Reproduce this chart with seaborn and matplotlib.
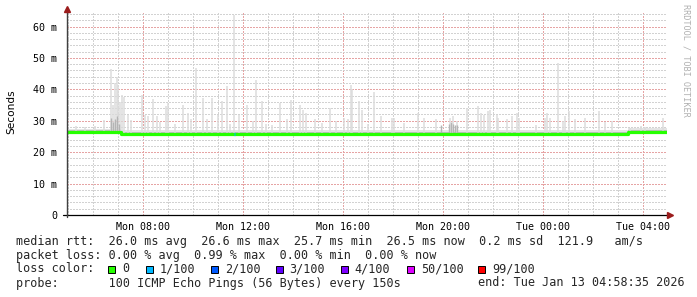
import numpy as np
import pandas as pd
import matplotlib
matplotlib.use("Agg")
import matplotlib.pyplot as plt
import matplotlib.dates as mdates
from matplotlib.patches import Rectangle
from matplotlib.ticker import MultipleLocator, FuncFormatter
import seaborn as sns

# ---------------- data ----------------
START = pd.Timestamp("2026-01-12 04:58:35")
END = pd.Timestamp("2026-01-13 04:58:35")
BIN_HOURS = 150 / 3600.0

# median rtt (ms), step changes (hours after START)
median_step_hours = [0.0, 2.16, 22.43, 24.0]
median_step_ms = [26.4, 25.75, 26.5, 26.5]
# light smoke floor and darker inner smoke (ms) for the same steps
smoke_floor_ms = [27.5, 27.0, 27.6, 27.6]
smoke_inner_ms = [26.95, 26.3, 27.05, 27.05]

# smoke spikes: hours after START and top of smoke (ms)
spike_hours = [0.35, 0.72, 1.12, 1.48, 1.76, 1.84, 1.92, 1.99, 2.04, 2.12, 2.19, 2.29,
               2.43, 2.56, 2.99, 3.12, 3.23, 3.45, 3.59, 3.72, 3.95, 4.04, 4.32, 4.64,
               4.85, 4.96, 5.16, 5.43, 5.59, 5.81, 6.05, 6.21, 6.39, 6.52, 6.69, 6.89,
               7.21, 7.45, 7.55, 7.79, 7.96, 8.19, 8.52, 8.81, 8.96, 9.32, 9.45, 9.56,
               9.92, 10.19, 10.52, 10.76, 11.08, 11.23, 11.36, 11.42, 11.69, 11.79, 12.04,
               12.29, 12.56, 12.99, 13.08, 13.48, 14.04, 14.28, 14.76, 15.32, 15.45, 15.60,
               15.99, 16.45, 16.58, 16.68, 16.85, 16.92, 17.19, 17.25, 17.59, 17.79, 17.99,
               18.09, 18.76, 19.12, 19.19, 19.32, 19.66, 19.83, 19.92, 20.08, 20.32, 20.72,
               21.29, 21.52, 21.79, 22.52, 22.95, 23.12, 23.85]
spike_top_ms = [28.4, 28.0, 28.3, 30.2, 46.6, 35.0, 42.0, 43.8, 41.5, 36.0, 38.3, 37.7,
                31.9, 30.3, 38.3, 31.9, 31.4, 37.0, 31.4, 29.5, 34.6, 35.6, 29.0, 35.1,
                32.5, 30.4, 46.8, 37.2, 30.4, 37.2, 31.9, 36.2, 41.0, 29.0, 63.8, 31.9,
                35.1, 29.8, 43.1, 36.2, 29.0, 28.7, 35.6, 30.5, 36.7, 35.1, 33.5, 32.4,
                30.5, 29.4, 34.0, 29.8, 30.9, 30.5, 41.5, 40.0, 36.2, 33.5, 29.0,
                39.0, 31.4, 30.9, 31.0, 29.4, 32.4, 30.9, 30.4, 30.9, 31.4, 30.0,
                34.0, 34.6, 32.4, 31.9, 33.0, 33.5, 31.9, 30.9, 30.4, 31.4, 32.4,
                30.9, 28.7, 30.9, 32.4, 30.9, 48.4, 30.0, 31.4, 33.0, 30.4, 30.9,
                33.0, 29.5, 29.8, 27.8, 28.4, 28.0, 30.9]

# denser (darker) smoke
dark_hours = [1.76, 1.84, 1.92, 2.00, 2.08, 14.96, 15.28, 15.36, 15.44, 15.52, 15.60]
dark_top_ms = [31.0, 29.5, 30.5, 31.5, 29.0, 28.7, 29.0, 29.5, 29.0, 28.6, 28.8]

# packet loss events (hours after START, lost pings out of 100)
loss_event_hours = [6.69]
loss_event_count = [1]

# legend
loss_labels = ["0", "1/100", "2/100", "3/100", "4/100", "50/100", "99/100"]
loss_thresholds = [0, 1, 2, 3, 4, 50, 99]
loss_colors = ["#26ff00", "#00b8ff", "#0059ff", "#5e00ff", "#7e00ff", "#dd00ff", "#ff0000"]
rtt_line = "median rtt:  26.0 ms avg  26.6 ms max  25.7 ms min  26.5 ms now  0.2 ms sd  121.9   am/s"
loss_line = "packet loss: 0.00 % avg  0.99 % max  0.00 % min  0.00 % now"
probe_line = "probe:       100 ICMP Echo Pings (56 Bytes) every 150s"
end_line = "end: Tue Jan 13 04:58:35 2026"

# ---------------- style ----------------
sns.set_style("white")
plt.rcParams["font.family"] = ["DejaVu Sans Mono", "DejaVu Sans"]

W, H = 697, 297
fig = plt.figure(figsize=(W / 100, H / 100), dpi=100)
fig.patch.set_facecolor("white")
ax = fig.add_axes([67 / W, 82 / H, 600 / W, 202 / H])
ax.set_facecolor("white")


def to_time(hours):
    return START + pd.to_timedelta(np.asarray(hours, dtype=float), unit="h")


def median_at(hours):
    idx = np.searchsorted(median_step_hours, hours, side="right") - 1
    idx = np.clip(idx, 0, len(median_step_ms) - 1)
    return np.asarray(median_step_ms)[idx]


step_t = to_time(median_step_hours)

# smoke floor
ax.fill_between(step_t, median_step_ms, smoke_floor_ms, step="post",
                color="#e4e4e4", lw=0, zorder=2)
ax.fill_between(step_t, median_step_ms, smoke_inner_ms, step="post",
                color="#bdbdbd", lw=0, zorder=2.1)

# smoke spikes
sh = np.asarray(spike_hours)
ax.vlines(to_time(sh), median_at(sh), spike_top_ms, colors="#dcdcdc", lw=1.1, zorder=2.2)
dh = np.asarray(dark_hours)
ax.vlines(to_time(dh), median_at(dh), dark_top_ms, colors="#b4b4b4", lw=1.0, zorder=2.3)

# median line
med_df = pd.DataFrame({"time": step_t, "median": median_step_ms})
sns.lineplot(data=med_df, x="time", y="median", drawstyle="steps-post",
             color=loss_colors[0], lw=2.3, ax=ax, zorder=3)

# loss events on the median
for h, c in zip(loss_event_hours, loss_event_count):
    ci = max(i for i, t in enumerate(loss_thresholds) if c >= t)
    m = median_at(np.array([h]))[0]
    ax.plot(to_time([h, h + BIN_HOURS]), [m, m], color=loss_colors[ci],
            lw=2.3, solid_capstyle="butt", zorder=3.5)

# axes limits and ticks
ax.set_xlim(START, END)
ax.set_ylim(0, 64.3)
ax.set_xlabel("")
ax.set_ylabel("")

ax.xaxis.set_major_locator(mdates.HourLocator(byhour=[0, 4, 8, 12, 16, 20]))
ax.xaxis.set_major_formatter(mdates.DateFormatter("%a %H:%M"))
ax.xaxis.set_minor_locator(mdates.HourLocator())
ax.yaxis.set_major_locator(MultipleLocator(10))
ax.yaxis.set_minor_locator(MultipleLocator(2))
ax.yaxis.set_major_formatter(FuncFormatter(lambda v, _: "0" if abs(v) < 1e-9 else f"{v:.0f} m"))

ax.tick_params(axis="x", which="major", length=3, width=0.8, pad=2, labelsize=7.2,
               colors="black", direction="out")
ax.tick_params(axis="y", which="major", length=2, width=0.8, pad=5, labelsize=7.2,
               colors="black", direction="out")
ax.tick_params(which="minor", length=0)
for lab in ax.get_xticklabels() + ax.get_yticklabels():
    lab.set_family("DejaVu Sans Mono")

red_grid = "#e6a4a4"
grey_grid = "#d2d2d2"
dots = (0, (1, 1.4))
ax.set_axisbelow(True)
ax.grid(which="major", axis="both", color=red_grid, ls=dots, lw=0.75, zorder=0, antialiased=False)
ax.grid(which="minor", axis="both", color=grey_grid, ls=dots, lw=0.75, zorder=0, antialiased=False)
for t in pd.date_range(START.ceil("h"), END, freq="h"):
    if t.hour % 4 == 2:
        ax.axvline(t, color=red_grid, ls=dots, lw=0.75, zorder=0.5, antialiased=False)

for s in ax.spines.values():
    s.set_visible(False)

# axis lines with arrows
ax.plot([-0.006, 1.004], [0, 0], transform=ax.transAxes, color="black", lw=0.9,
        clip_on=False, zorder=5)
ax.plot([0, 0], [-0.012, 1.005], transform=ax.transAxes, color="#404040", lw=1.0,
        clip_on=False, zorder=5)
ax.plot([1.0058], [0], marker=">", transform=ax.transAxes, color="#9b1c1c",
        markersize=4, clip_on=False, zorder=6)
ax.plot([0], [1.018], marker="^", transform=ax.transAxes, color="#9b1c1c",
        markersize=4, clip_on=False, zorder=6)

# y label and watermark
fig.text(11 / W, 1 - 112 / H, "Seconds", rotation=90, ha="center", va="center",
         fontsize=7.6, family="DejaVu Sans", color="black")
fig.text(686 / W, 1 - 4 / H, "RRDTOOL / TOBI OETIKER", rotation=270, ha="center",
         va="top", fontsize=6.1, family="DejaVu Sans Mono", color="#b0b0b0")

# legend text
FS = 8.45
mono = "DejaVu Sans Mono"
fig.text(16 / W, 1 - 241 / H, rtt_line, ha="left", va="center", fontsize=FS, family=mono)
fig.text(16 / W, 1 - 255 / H, loss_line, ha="left", va="center", fontsize=FS, family=mono)
fig.text(16 / W, 1 - 269 / H, "loss color:", ha="left", va="center", fontsize=FS, family=mono)
fig.text(16 / W, 1 - 283 / H, probe_line, ha="left", va="center", fontsize=FS, family=mono)
fig.text(478 / W, 1 - 283 / H, end_line, ha="left", va="center", fontsize=FS, family=mono)

square_x = [108, 146, 211, 275.5, 340.5, 407, 478]
for x, lab, col in zip(square_x, loss_labels, loss_colors):
    fig.add_artist(Rectangle((x / W, 1 - 272.5 / H), 7 / W, 7 / H, transform=fig.transFigure,
                             facecolor=col, edgecolor="black", lw=0.7))
    fig.text((x + 14) / W, 1 - 269 / H, lab, ha="left", va="center", fontsize=FS, family=mono)

fig.savefig("out.png", dpi=100, facecolor="white")
